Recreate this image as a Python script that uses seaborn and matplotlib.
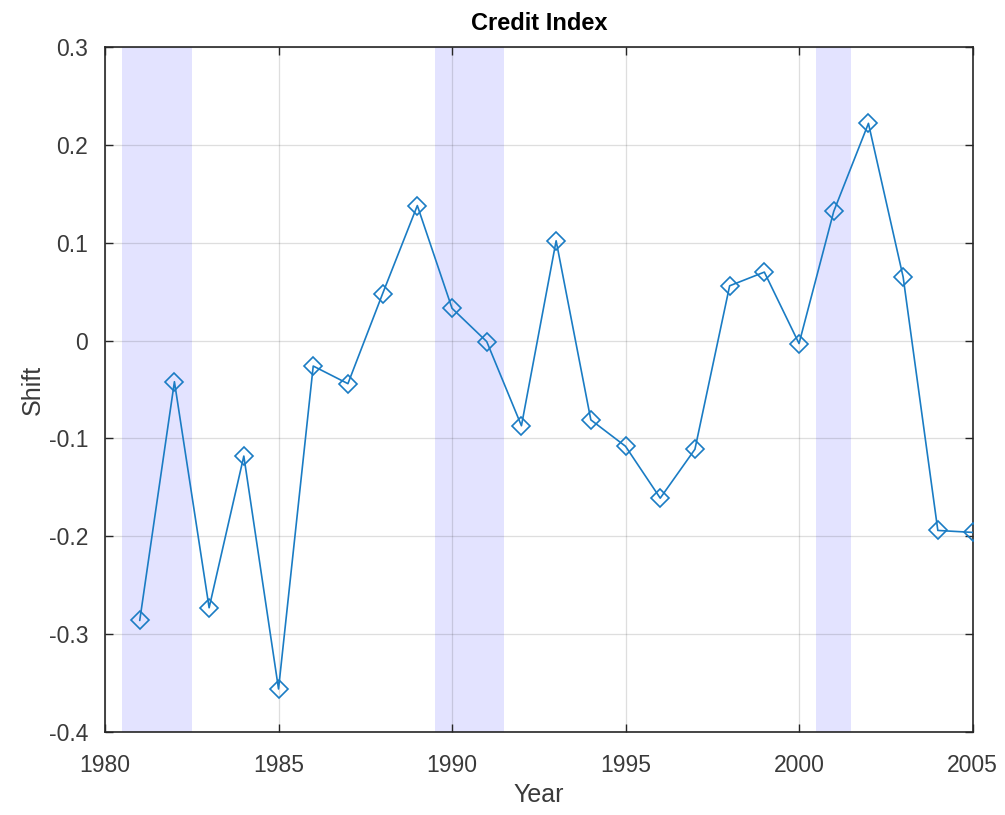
import matplotlib
matplotlib.use("Agg")
import matplotlib.pyplot as plt
import seaborn as sns
import pandas as pd

years = list(range(1981, 2006))
shift = [-0.286, -0.042, -0.273, -0.118, -0.356, -0.026, -0.044, 0.048, 0.138,
         0.033, -0.001, -0.087, 0.102, -0.081, -0.108, -0.161, -0.111, 0.056,
         0.070, -0.003, 0.132, 0.222, 0.065, -0.194, -0.196]
recession_starts = [1980.5, 1989.5, 2000.5]
recession_ends = [1982.5, 1991.5, 2001.5]
x_ticks = [1980, 1985, 1990, 1995, 2000, 2005]
y_ticks = [-0.4, -0.3, -0.2, -0.1, 0, 0.1, 0.2, 0.3]
y_tick_labels = ["-0.4", "-0.3", "-0.2", "-0.1", "0", "0.1", "0.2", "0.3"]

sns.set_style("white")
plt.rcParams["font.family"] = ["Liberation Sans", "DejaVu Sans"]

df = pd.DataFrame({"Year": years, "Shift": shift})

fig = plt.figure(figsize=(10.05, 8.15), dpi=100)
ax = fig.add_axes([0.1045, 0.1018, 0.8632, 0.8405])

# shaded recession periods
for s, e in zip(recession_starts, recession_ends):
    ax.axvspan(s, e, color="#e3e3ff", lw=0, zorder=0)

sns.lineplot(data=df, x="Year", y="Shift", ax=ax, color="#1a7cc4", lw=1.2,
             marker="D", markersize=9.5, markerfacecolor="none",
             markeredgecolor="#1a7cc4", markeredgewidth=1.2, zorder=3)

ax.set_xlim(1980, 2005)
ax.set_ylim(-0.4, 0.3)
ax.set_xticks(x_ticks)
ax.set_yticks(y_ticks)
ax.set_yticklabels(y_tick_labels)
ax.grid(True, color="#262626", alpha=0.15, lw=0.9)
for line in ax.get_xgridlines() + ax.get_ygridlines():
    line.set_zorder(1.5)

ax.tick_params(direction="in", length=6, width=1, color="#262626",
               labelsize=16.5, labelcolor="#3a3a3a", top=True, right=True,
               bottom=True, left=True)
ax.tick_params(axis="x", pad=16)
ax.tick_params(axis="y", pad=12)
for sp in ax.spines.values():
    sp.set_color("#262626")
    sp.set_linewidth(1.2)
    sp.set_visible(True)

ax.set_xlabel("Year", fontsize=18, color="#3a3a3a", labelpad=4)
ax.set_ylabel("Shift", fontsize=18, color="#3a3a3a", labelpad=3)
ax.set_title("Credit Index", fontsize=17, fontweight="bold", color="black", pad=12)

fig.savefig("out.png", dpi=100)
